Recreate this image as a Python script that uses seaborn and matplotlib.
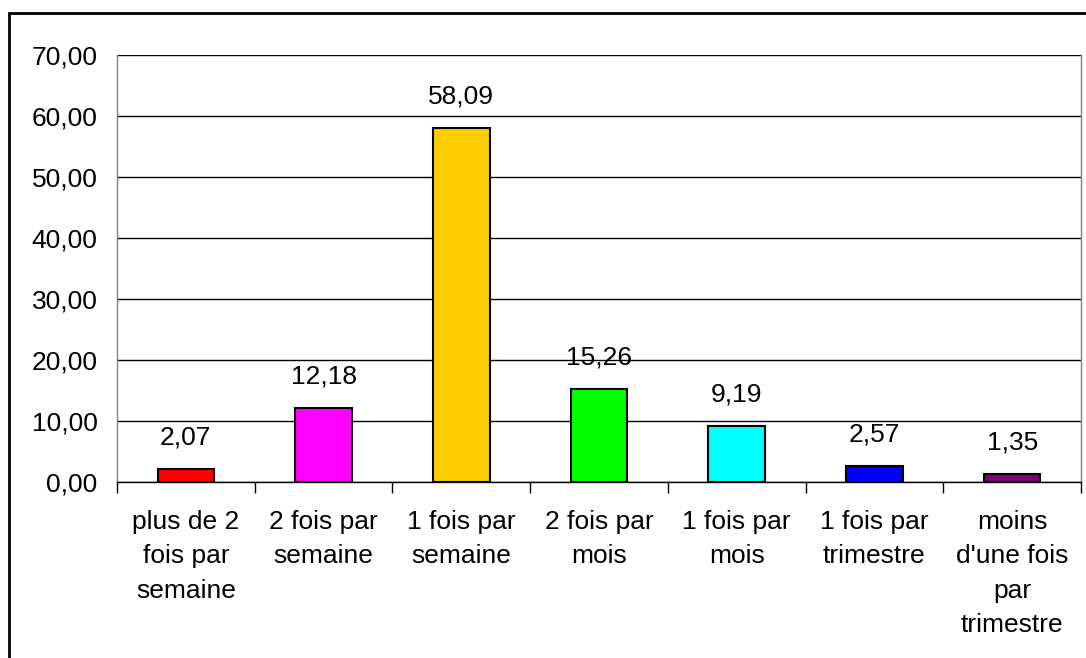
import matplotlib
matplotlib.use("Agg")
import matplotlib.pyplot as plt
import matplotlib.patches as mpatches
from matplotlib.ticker import FixedLocator, FuncFormatter
import seaborn as sns
import pandas as pd

categories = ["plus de 2\nfois par\nsemaine", "2 fois par\nsemaine", "1 fois par\nsemaine",
              "2 fois par\nmois", "1 fois par\nmois", "1 fois par\ntrimestre",
              "moins\nd'une fois\npar\ntrimestre"]
values = [2.07, 12.18, 58.09, 15.26, 9.19, 2.57, 1.35]
colors = ["#FF0000", "#FF00FF", "#FFCC00", "#00FF00", "#00FFFF", "#0000FF", "#800080"]
yticks = [0, 10, 20, 30, 40, 50, 60, 70]

sns.set_theme(style="white")
plt.rcParams['font.family'] = ['Liberation Sans', 'DejaVu Sans']

df = pd.DataFrame({"cat": categories, "val": values})

fig = plt.figure(figsize=(10.86, 6.58), dpi=100)
ax = fig.add_axes([117/1086, 1-482/658, (1081-117)/1086, (482-55)/658])

sns.barplot(data=df, x="cat", y="val", hue="cat", palette=colors, legend=False, saturation=1,
            width=0.41, edgecolor="black", linewidth=1.5, ax=ax, zorder=3)

ax.set_ylim(0, 70)
ax.set_xlim(-0.5, len(categories) - 0.5)
ax.set_yticks(yticks)
ax.yaxis.set_major_formatter(FuncFormatter(lambda v, p: f"{v:.2f}".replace(".", ",")))
ax.tick_params(axis="y", length=0, pad=14, labelsize=19, colors="black")
ax.tick_params(axis="x", which="major", length=0, pad=20, labelsize=19, colors="black")
ax.xaxis.set_minor_locator(FixedLocator([i - 0.5 for i in range(len(categories) + 1)]))
ax.tick_params(axis="x", which="minor", length=8, width=1, color="black", direction="out", bottom=True)
for lbl in ax.get_xticklabels():
    lbl.set_linespacing(1.55)
    lbl.set_verticalalignment("top")

ax.set_xlabel("")
ax.set_ylabel("")
ax.yaxis.grid(True, color="black", linewidth=1)
ax.set_axisbelow(True)
ax.spines["top"].set_visible(False)
ax.spines["left"].set_color("#808080")
ax.spines["right"].set_color("#808080")
ax.spines["bottom"].set_color("black")
for s in ax.spines.values():
    s.set_linewidth(1)

for i, v in enumerate(values):
    ax.annotate(f"{v:.2f}".replace(".", ","), (i, v), xytext=(0, 14), textcoords="offset points",
                ha="center", va="bottom", fontsize=19, color="black")

border = mpatches.Rectangle((9/1086, -0.1), 1.2, 1 - 13/658 + 0.1, transform=fig.transFigure,
                            fill=False, edgecolor="black", linewidth=2, clip_on=False)
fig.patches.append(border)

fig.savefig("out.png", dpi=100)
